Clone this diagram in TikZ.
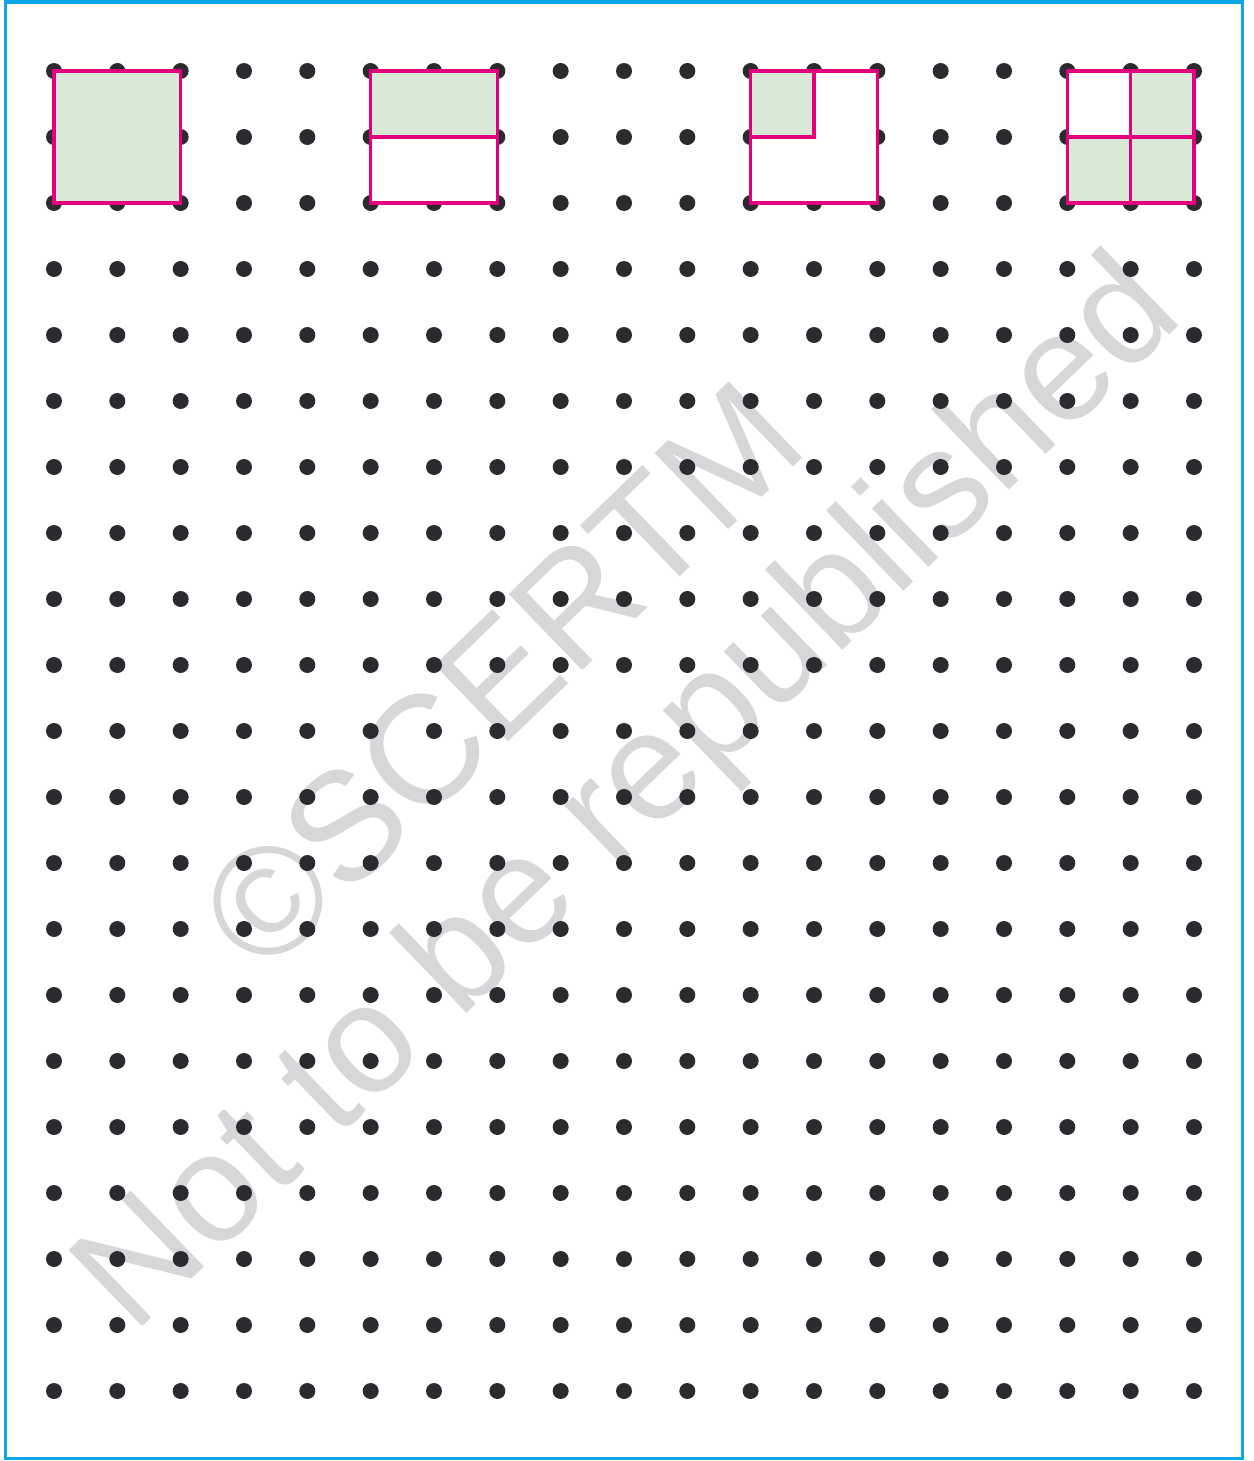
\documentclass[tikz,border=0pt]{standalone}
\usepackage{fontspec}
\usepackage{xcolor}
\usepackage{tikz}
\usetikzlibrary{positioning,calc}

\newfontfamily\wmfont{Liberation Sans}
\definecolor{dotgray}{HTML}{2C2A2E}
\definecolor{rimblue}{HTML}{0CA5E5}
\definecolor{edgepink}{HTML}{E2007E}
\definecolor{partgreen}{HTML}{D8E9D8}
\definecolor{wmgray}{HTML}{D6D7D9}

\begin{document}
\begin{tikzpicture}[x=1pt, y=-1pt,
    dot/.style={fill=dotgray},
    rim/.style={draw=rimblue, line width=3.5pt},
    part/.style={draw=edgepink, line width=3.2pt},
    shade/.style={fill=partgreen},
    wmark/.style={text=wmgray, anchor=base, rotate=44, inner sep=0pt,
                  font=\wmfont\fontsize{154}{164}\selectfont}]
  \useasboundingbox (0,0) rectangle (1253,1461);
  \draw[rim] (5.5,1.8) rectangle (1242.5,1458.5);

  % watermark
  \node[wmark] (wmtop) at (538,714) {©SCERTM};
  \node[wmark] (wmbot) at (660,827) {Not to be republished};

  % dot grid
  \foreach \i in {0,...,18}
    \foreach \j in {0,...,20}
      \coordinate (p-\i-\j) at ({54+63.333*\i},{71+66*\j});
  \foreach \i in {0,...,18}
    \foreach \j in {0,...,20}
      \fill[dot] (p-\i-\j) circle (8pt);

  % whole
  \filldraw[part, shade] (p-0-0) rectangle (p-2-2);
  % half
  \fill[white] (p-5-0) rectangle (p-7-2);
  \fill[shade] (p-5-0) rectangle (p-7-1);
  \draw[part] (p-5-0) rectangle (p-7-2) (p-5-1) -- (p-7-1);
  % one quarter
  \fill[white] (p-11-0) rectangle (p-13-2);
  \fill[shade] (p-11-0) rectangle (p-12-1);
  \draw[part] (p-11-0) rectangle (p-13-2) (p-11-1) -| (p-12-0);
  % three quarters
  \fill[white] (p-16-0) rectangle (p-18-2);
  \fill[shade] (p-17-0) rectangle (p-18-1) (p-16-1) rectangle (p-18-2);
  \draw[part] (p-16-0) rectangle (p-18-2) (p-16-1) -- (p-18-1)
              (p-17-0) -- (p-17-2);
\end{tikzpicture}
\end{document}
